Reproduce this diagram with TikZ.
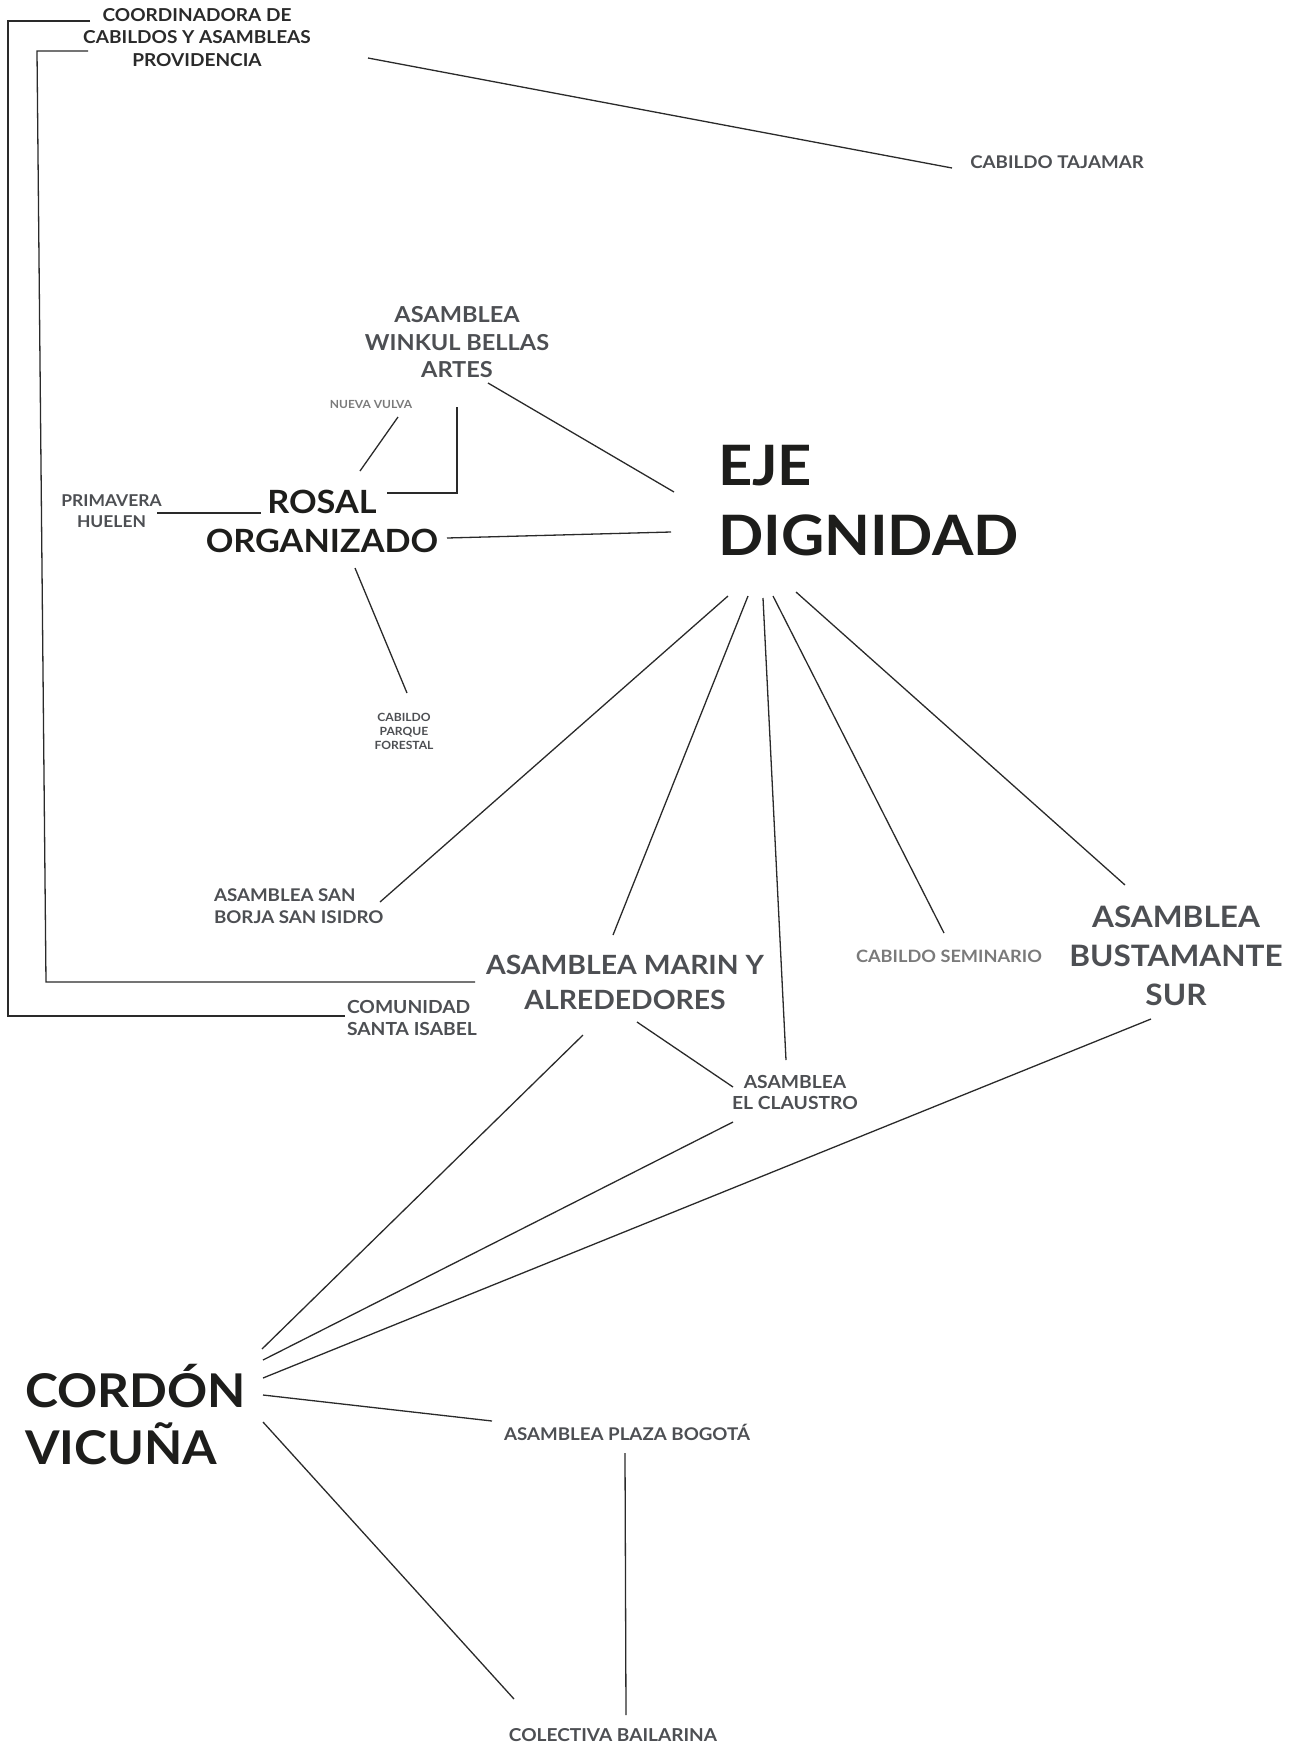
\documentclass[tikz,border=0pt]{standalone}
\usepackage{fontspec}
\setmainfont{Lato}[FakeStretch=1.07]
\definecolor{blk}{HTML}{1D1D1B}
\definecolor{dk}{HTML}{2A2A2A}
\definecolor{gry}{HTML}{4D4F53}
\definecolor{lgry}{HTML}{7A7A7A}
\definecolor{lc}{HTML}{2A2A2A}
\tikzset{
  lbl/.style n args={3}{font=\fontsize{#1}{#2}\selectfont\bfseries, text=#3, inner sep=0pt, outer sep=0pt},
  conn/.style={draw=lc, line width=1.3pt}
}
\begin{document}
\begin{tikzpicture}[x=1pt,y=-1pt]
\useasboundingbox (0,0) rectangle (1304,1746);
% nodes
\node[lbl={17.8}{22.5}{dk}, align=center] (coord) at (197,37.5) {COORDINADORA DE\\CABILDOS Y ASAMBLEAS\\PROVIDENCIA};
\node[lbl={17.5}{21}{gry}] (tajamar) at (1057,162) {CABILDO TAJAMAR};
\node[lbl={22}{27.5}{gry}, align=center] (winkul) at (457,342.5) {ASAMBLEA\\WINKUL BELLAS\\ARTES};
\node[lbl={11.2}{14}{lgry}] (nueva) at (371,404) {NUEVA VULVA};
\node[lbl={32}{39}{blk}, align=center] (rosal) at (322,521) {ROSAL\\ORGANIZADO};
\node[lbl={16.3}{21}{gry}, align=center] (primavera) at (111.5,511.5) {PRIMAVERA\\HUELEN};
\node[lbl={11.3}{14}{gry}, align=center] (parque) at (404,731) {CABILDO\\PARQUE\\FORESTAL};
\node[lbl={55.7}{70}{blk}, align=left, anchor=west] (eje) at (718,500.5) {EJE\\DIGNIDAD};
\node[lbl={17.5}{22}{gry}, align=left, anchor=west] (sanborja) at (214,906) {ASAMBLEA SAN\\BORJA SAN ISIDRO};
\node[lbl={26.5}{35}{gry}, align=center] (marin) at (625,982.5) {ASAMBLEA MARIN Y\\ALREDEDORES};
\node[lbl={18}{22}{gry}, align=left, anchor=west] (comunidad) at (347,1018) {COMUNIDAD\\SANTA ISABEL};
\node[lbl={17}{20}{lgry}] (seminario) at (949,956) {CABILDO SEMINARIO};
\node[lbl={29.5}{39}{gry}, align=center] (bustamante) at (1176,956) {ASAMBLEA\\BUSTAMANTE\\SUR};
\node[lbl={18}{21}{gry}, align=center] (claustro) at (795,1092.5) {ASAMBLEA\\EL CLAUSTRO};
\node[lbl={46.5}{57}{blk}, align=left, anchor=west] (cordon) at (25,1415) {CORDÓN\\VICUÑA};
\node[lbl={17.5}{21}{gry}] (plaza) at (627,1432) {ASAMBLEA PLAZA BOGOTÁ};
\node[lbl={17.8}{21}{gry}] (colectiva) at (613,1735) {COLECTIVA BAILARINA};
% connector end points
\coordinate (coordA) at (90,21);
\coordinate (coordB) at (88,51);
\coordinate (coordC) at (368,58);
\coordinate (tajamarA) at (952,168);
\coordinate (winkulA) at (488,383);
\coordinate (winkulB) at (457,407);
\coordinate (nuevaA) at (398,417);
\coordinate (rosalA) at (360,471);
\coordinate (rosalB) at (387,493);
\coordinate (rosalC) at (261,513);
\coordinate (rosalD) at (447,538);
\coordinate (rosalE) at (355,568);
\coordinate (primaveraA) at (157,513);
\coordinate (parqueA) at (407,693);
\coordinate (ejeA) at (674,492);
\coordinate (ejeB) at (671,532);
\coordinate (ejeC) at (728,596);
\coordinate (ejeD) at (748,596);
\coordinate (ejeE) at (763,598);
\coordinate (ejeF) at (773,596);
\coordinate (ejeG) at (796,592);
\coordinate (sanborjaA) at (380,902);
\coordinate (marinA) at (613,935);
\coordinate (marinB) at (475,982);
\coordinate (marinC) at (637,1022);
\coordinate (marinD) at (583,1035);
\coordinate (comunidadA) at (345,1016);
\coordinate (seminarioA) at (944,933);
\coordinate (bustamanteA) at (1125,885);
\coordinate (bustamanteB) at (1151,1019);
\coordinate (claustroA) at (786,1060);
\coordinate (claustroB) at (733,1087);
\coordinate (claustroC) at (733,1122);
\coordinate (cordonA) at (262,1349);
\coordinate (cordonB) at (263,1360);
\coordinate (cordonC) at (263,1378);
\coordinate (cordonD) at (263,1395);
\coordinate (cordonE) at (263,1422);
\coordinate (plazaA) at (492,1421);
\coordinate (plazaB) at (625,1453);
\coordinate (colectivaA) at (514,1699);
\coordinate (colectivaB) at (626,1715);
% connectors
\draw[conn] (coordA) -- (8,21) -- (8,1016) -- (comunidadA);
\draw[conn] (coordB) -- (37,51) -- (46,982) -- (marinB);
\draw[conn] (coordC) -- (tajamarA);
\draw[conn] (winkulA) -- (ejeA);
\draw[conn] (winkulB) |- (rosalB);
\draw[conn] (nuevaA) -- (rosalA);
\draw[conn] (primaveraA) -- (rosalC);
\draw[conn] (rosalD) -- (ejeB);
\draw[conn] (rosalE) -- (parqueA);
\draw[conn] (ejeC) -- (sanborjaA);
\draw[conn] (ejeD) -- (marinA);
\draw[conn] (ejeE) -- (claustroA);
\draw[conn] (ejeF) -- (seminarioA);
\draw[conn] (ejeG) -- (bustamanteA);
\draw[conn] (marinC) -- (claustroB);
\draw[conn] (marinD) -- (cordonA);
\draw[conn] (claustroC) -- (cordonB);
\draw[conn] (bustamanteB) -- (cordonC);
\draw[conn] (cordonD) -- (plazaA);
\draw[conn] (cordonE) -- (colectivaA);
\draw[conn] (plazaB) -- (colectivaB);
\end{tikzpicture}
\end{document}
